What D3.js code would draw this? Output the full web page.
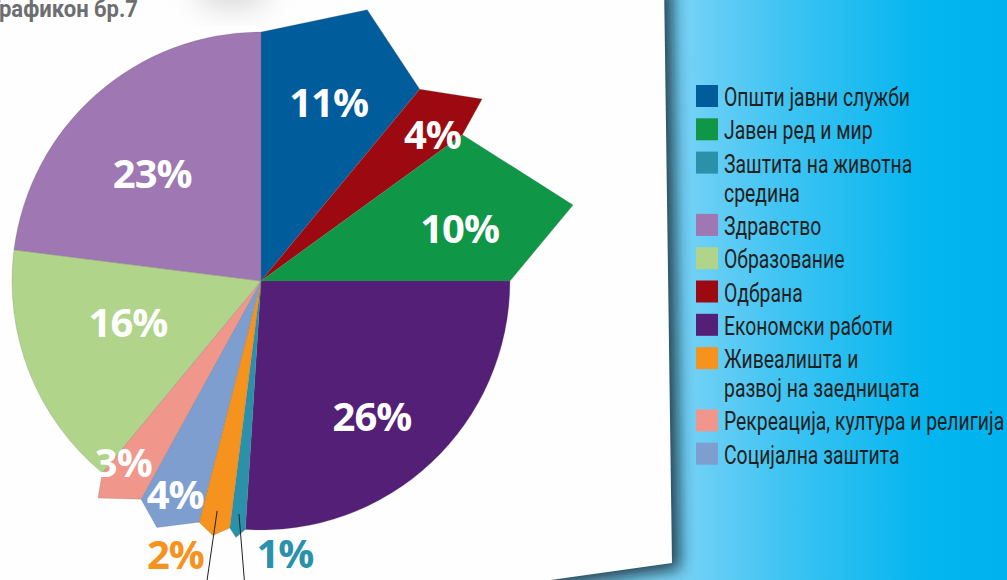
<!DOCTYPE html>
<html>
<head>
<meta charset="utf-8">
<script src="https://cdn.jsdelivr.net/npm/d3@7"></script>
<style>
  html, body { margin: 0; padding: 0; background: #fff; }
  svg { display: block; }
  .pct { font-family: "Open Sans", sans-serif; font-weight: 700; font-size: 40px; letter-spacing: -1px; text-anchor: middle; }
  .legend text { font-family: Roboto, "Noto Sans", sans-serif; font-size: 25px; fill: #231f20; }
</style>
</head>
<body>
<svg width="1007" height="580"></svg>
<script>
// pie slices, clockwise from 12 o'clock
const categories = [
    "Општи јавни служби",
    "Одбрана",
    "Јавен ред и мир",
    "Економски работи",
    "Заштита на животна средина",
    "Живеалишта и развој на заедницата",
    "Социјална заштита",
    "Рекреација, култура и религија",
    "Образование",
    "Здравство"
];
const shares = [11, 4, 10, 26, 1, 2, 4, 3, 16, 23];

// legend order as printed
const legendItems = [
    "Општи јавни служби",
    "Јавен ред и мир",
    "Заштита на животна средина",
    "Здравство",
    "Образование",
    "Одбрана",
    "Економски работи",
    "Живеалишта и развој на заедницата",
    "Рекреација, култура и религија",
    "Социјална заштита"
];
const legendLines = {
    "Заштита на животна средина": ["Заштита на животна", "средина"],
    "Живеалишта и развој на заедницата": ["Живеалишта и", "развој на заедницата"]
};

const color = d3.scaleOrdinal(categories, [
    "#005c9b", "#9d0910", "#0f9647", "#541f77", "#2b91aa",
    "#f6921e", "#7d9ecf", "#f0968a", "#afd48a", "#9e77b3"
]);

const svg = d3.select('svg');
const W = 1007, H = 580;
const defs = svg.append('defs');

const sea = defs.append('linearGradient')
    .attr('id', 'sea')
    .attr('gradientUnits', 'userSpaceOnUse')
    .attr('x1', 660).attr('x2', 1007).attr('y1', 0).attr('y2', 0);
sea.append('stop').attr('offset', 0).attr('stop-color', '#82d5f7');
sea.append('stop').attr('offset', 0.35).attr('stop-color', '#40c4f2');
sea.append('stop').attr('offset', 0.75).attr('stop-color', '#05b6ef');
sea.append('stop').attr('offset', 1).attr('stop-color', '#00b3ee');

defs.append('filter').attr('id', 'blur8')
    .attr('x', '-20%').attr('y', '-20%').attr('width', '140%').attr('height', '140%')
    .append('feGaussianBlur').attr('stdDeviation', 8);
defs.append('filter').attr('id', 'blur14')
    .attr('x', '-50%').attr('y', '-50%').attr('width', '200%').attr('height', '200%')
    .append('feGaussianBlur').attr('stdDeviation', 14);

svg.append('rect').attr('width', W).attr('height', H).attr('fill', 'url(#sea)');

// sheet of paper, slightly tilted
const paper = [[-20, -20], [664, -20], [672, 563], [-20, 660]];
svg.append('polygon')
    .attr('points', paper.map(p => [p[0] + 8, p[1] + 6]).join(' '))
    .attr('fill', '#0e2733')
    .attr('opacity', 0.85)
    .attr('filter', 'url(#blur8)');
svg.append('polygon')
    .attr('points', paper.join(' '))
    .attr('fill', '#fefefe');

svg.append('ellipse')
    .attr('cx', 232).attr('cy', -10).attr('rx', 38).attr('ry', 18)
    .attr('fill', '#a8a8a8').attr('opacity', 0.45)
    .attr('filter', 'url(#blur14)');

// the page title runs off the left edge of the photo
svg.append('text')
    .attr('transform', 'translate(138,17) scale(0.92,1)')
    .attr('text-anchor', 'end')
    .style('font-family', 'Roboto, sans-serif')
    .style('font-weight', 700)
    .style('font-size', '24px')
    .attr('fill', '#6d6e71')
    .text('Графикон бр.7');

// pie
const cx = 261, cy = 281, R = 249;
const pie = d3.pie().sort(null).value(d => d.value);
const slices = pie(categories.map((c, i) => ({ name: c, value: shares[i] })));

// pulled-out slices: apex position in the slice (t) and apex radius factor (k)
const pointed = {
    "Општи јавни служби": { t: 0.54, k: 1.17 },
    "Одбрана": { t: 0.76, k: 1.15 },
    "Јавен ред и мир": { t: 0.62, k: 1.29 },
    "Заштита на животна средина": { t: 0.55, k: 1.035 },
    "Живеалишта и развој на заедницата": { t: 0.49, k: 1.04 },
    "Социјална заштита": { t: 0.59, k: 1.075 },
    "Рекреација, култура и религија": { t: 0.75, k: 1.09 }
};
// label placement: radius factor and angle shift in degrees
const labelAt = {
    "Општи јавни служби": { r: 0.765, da: 1 },
    "Одбрана": { r: 0.905, da: 2.7 },
    "Јавен ред и мир": { r: 0.825, da: 3.2 },
    "Економски работи": { r: 0.705, da: 4 },
    "Заштита на животна средина": { r: 1.1, da: -10.4, outside: true },
    "Живеалишта и развој на заедницата": { r: 1.15, da: 6.6, outside: true },
    "Социјална заштита": { r: 0.925, da: 0.3 },
    "Рекреација, култура и религија": { r: 0.915, da: 3 },
    "Образование": { r: 0.56, da: 4.1 },
    "Здравство": { r: 0.615, da: -3.9 }
};

const polar = (a, r) => [r * Math.sin(a), -r * Math.cos(a)];
const arc = d3.arc().innerRadius(0).outerRadius(R);
const line = d3.line().curve(d3.curveLinearClosed);

function slicePath(d) {
    const p = pointed[d.data.name];
    if (!p) return arc(d);
    const am = d.startAngle + p.t * (d.endAngle - d.startAngle);
    return line([[0, 0], polar(d.startAngle, R), polar(am, R * p.k), polar(d.endAngle, R)]);
}

const g = svg.append('g').attr('transform', 'translate(' + cx + ',' + cy + ')');

g.selectAll('path.slice')
    .data(slices)
    .enter()
    .append('path')
    .attr('class', 'slice')
    .attr('d', slicePath)
    .attr('fill', d => color(d.data.name))
    .attr('stroke', '#6b6b6b')
    .attr('stroke-opacity', 0.45)
    .attr('stroke-width', 0.5)
    .attr('stroke-linejoin', 'round');

// leader lines for the two outside labels
const leaders = slices.filter(d => labelAt[d.data.name].outside);
const leaderEnd = {
    "Заштита на животна средина": -2.8,
    "Живеалишта и развој на заедницата": -0.7
};
g.selectAll('line.leader')
    .data(leaders)
    .enter()
    .append('line')
    .attr('class', 'leader')
    .each(function (d) {
        const mid = (d.startAngle + d.endAngle) / 2;
        const a = polar(mid, R * 0.94);
        const b = polar(mid + leaderEnd[d.data.name] * Math.PI / 180, R * 1.3);
        d3.select(this).attr('x1', a[0]).attr('y1', a[1]).attr('x2', b[0]).attr('y2', b[1]);
    })
    .attr('stroke', '#231f20')
    .attr('stroke-width', 1);

g.selectAll('text.pct')
    .data(slices)
    .enter()
    .append('text')
    .attr('class', 'pct')
    .attr('transform', d => {
        const l = labelAt[d.data.name];
        const a = (d.startAngle + d.endAngle) / 2 + l.da * Math.PI / 180;
        return 'translate(' + polar(a, R * l.r) + ')';
    })
    .attr('dy', '0.36em')
    .attr('fill', d => labelAt[d.data.name].outside ? color(d.data.name) : '#ffffff')
    .text(d => d.data.value + '%');

// legend
const legend = svg.append('g').attr('class', 'legend').attr('transform', 'translate(696,85)');
let extra = 0;
const rows = legendItems.map((name, i) => {
    const lines = legendLines[name] || [name];
    const row = { name: name, lines: lines, y: i * 33.3 + extra * 29 };
    extra += lines.length - 1;
    return row;
});

const items = legend.selectAll('g')
    .data(rows)
    .enter()
    .append('g')
    .attr('transform', d => 'translate(0,' + d.y + ')');

items.append('rect')
    .attr('width', 22)
    .attr('height', 22)
    .attr('fill', d => color(d.name));

items.append('text')
    .attr('transform', 'translate(28,21) scale(0.775,1)')
    .selectAll('tspan')
    .data(d => d.lines)
    .enter()
    .append('tspan')
    .attr('x', 0)
    .attr('dy', (d, i) => i === 0 ? 0 : 29)
    .text(d => d);
</script>
</body>
</html>
